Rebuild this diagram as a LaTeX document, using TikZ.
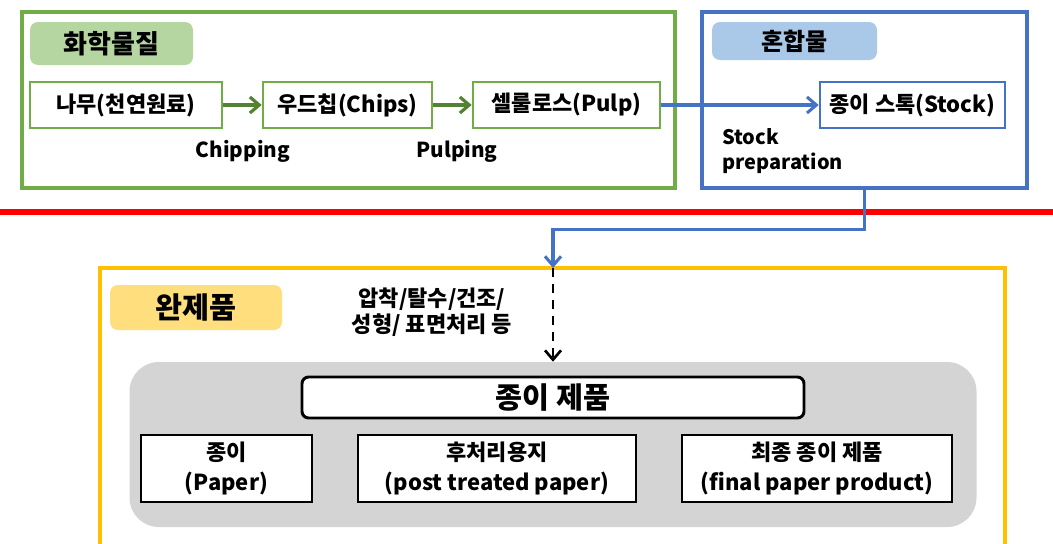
\documentclass[tikz,border=0pt]{standalone}
\usepackage{fontspec}
\setmainfont{Noto Sans CJK KR}
\usetikzlibrary{arrows.meta,positioning}
\definecolor{chemgreen}{RGB}{112,173,71}
\definecolor{chemdark}{RGB}{84,130,53}
\definecolor{chemfill}{RGB}{181,214,160}
\definecolor{mixblue}{RGB}{68,114,196}
\definecolor{mixfill}{RGB}{170,201,233}
\definecolor{prodyellow}{RGB}{255,192,0}
\definecolor{prodfill}{RGB}{255,222,125}
\definecolor{prodgray}{RGB}{212,212,212}

\begin{document}
\begin{tikzpicture}[x=0.75pt, y=-0.75pt, font=\bfseries,
    >={Straight Barb[length=7pt, width=12pt]},
    groupbox/.style={draw, line width=2.6pt, inner sep=0pt},
    tagbox/.style={rounded corners=6pt, inner sep=0pt, font=\bfseries\fontsize{18}{20}\selectfont},
    stepbox/.style={draw=chemgreen, line width=2pt, fill=white, inner sep=0pt,
        minimum height=34.5pt, font=\bfseries\fontsize{16.5}{20}\selectfont},
    proctext/.style={font=\bfseries\fontsize{15.5}{19}\selectfont, align=left},
    prodbox/.style={draw, line width=2.2pt, fill=white, inner sep=0pt, align=center,
        minimum height=50.25pt, font=\bfseries\fontsize{16.5}{22}\selectfont}]
    \useasboundingbox (0,0) rectangle (1053,543);

    % upper half
    \node[groupbox, draw=chemgreen, minimum width=489.75pt, minimum height=132pt] (chembox) at (348.5,100) {};
    \node[groupbox, draw=mixblue, minimum width=243.75pt, minimum height=132pt] (mixbox) at (864.5,100) {};
    \node[tagbox, fill=chemfill, minimum width=122.25pt, minimum height=32.25pt,
        font=\bfseries\fontsize{19.5}{22}\selectfont] (chemtag) at (111.5,43.5) {화학물질};
    \node[tagbox, fill=mixfill, minimum width=123.75pt, minimum height=28.5pt] (mixtag) at (794.5,41) {혼합물};

    \node[stepbox, minimum width=144pt] (wood) at (126,105) {나무(천연원료)};
    \node[stepbox, minimum width=126.75pt] (chips) at (347.5,105) {우드칩(Chips)};
    \node[stepbox, minimum width=140.25pt] (pulp) at (566.5,105) {셀룰로스(Pulp)};
    \node[stepbox, draw=mixblue, minimum width=138.75pt] (stock) at (912.5,105) {종이 스톡(Stock)};

    \node[proctext] (chipping) at (243,151) {Chipping};
    \node[proctext] (pulping) at (457,151) {Pulping};
    \node[proctext, font=\bfseries\fontsize{15}{19}\selectfont, anchor=north west, inner sep=0pt] (prep) at (722,128) {Stock\\preparation};

    \draw[->, chemdark, line width=2.4pt] (wood) -- (chips);
    \draw[->, chemdark, line width=2.4pt] (chips) -- (pulp);
    \draw[->, mixblue, line width=2.3pt] (pulp) -- (stock);

    % border between stages
    \draw[red, line width=3.8pt] (0,212) -- (1053,212);

    % lower half
    \coordinate (entry) at (553,268);
    \draw[prodyellow, line width=2.4pt] (100,548) -- (100,268) -- (1005,268) -- (1005,548);
    \node[tagbox, fill=prodfill, minimum width=129pt, minimum height=33.75pt,
        font=\bfseries\fontsize{22}{24}\selectfont] (prodtag) at (196,307.5) {완제품};
    \node[font=\bfseries\fontsize{16.5}{19.5}\selectfont, align=center] (steps) at (432,312) {압착/탈수/건조/\\성형/ 표면처리 등};

    \node[fill=prodgray, rounded corners=22pt, minimum width=635.25pt, minimum height=123.75pt] (grayarea) at (553,444.5) {};
    \node[draw, line width=2.2pt, fill=white, rounded corners=5pt, minimum width=376.5pt, minimum height=30.75pt,
        font=\bfseries\fontsize{22}{24}\selectfont] (product) at (553,397.5) {종이 제품};
    \node[prodbox, minimum width=128.25pt] (paper) at (226.5,468.5) {종이\\(Paper)};
    \node[prodbox, minimum width=208.5pt] (treated) at (497,468.5) {후처리용지\\(post treated paper)};
    \node[prodbox, minimum width=202.5pt] (finalp) at (817,468.5) {최종 종이 제품\\(final paper product)};

    \draw[->, mixblue, line width=2.3pt] (mixbox.south) -- ++(0,40) -| (entry);
    \draw[->, line width=2pt, dash pattern=on 7pt off 5pt] (entry) -- (grayarea.north);
\end{tikzpicture}
\end{document}
